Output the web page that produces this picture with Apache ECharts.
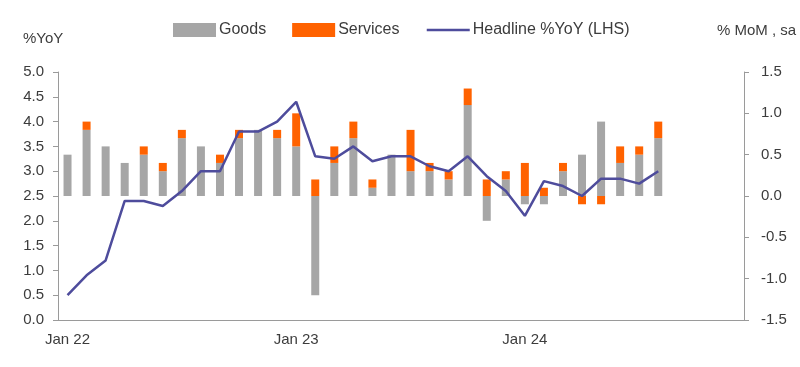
<!DOCTYPE html>
<html>
<head>
<meta charset="utf-8">
<script src="https://cdn.jsdelivr.net/npm/echarts@6/dist/echarts.min.js"></script>
<style>
html,body{margin:0;padding:0;background:#fff;}
#chart{width:800px;height:367px;}
</style>
</head>
<body>
<div id="chart"></div>
<script>
var months = ['Jan 22','Feb 22','Mar 22','Apr 22','May 22','Jun 22','Jul 22','Aug 22','Sep 22','Oct 22','Nov 22','Dec 22',
              'Jan 23','Feb 23','Mar 23','Apr 23','May 23','Jun 23','Jul 23','Aug 23','Sep 23','Oct 23','Nov 23','Dec 23',
              'Jan 24','Feb 24','Mar 24','Apr 24','May 24','Jun 24','Jul 24','Aug 24','Sep 24','Oct 24','Nov 24','Dec 24'];
var goods    = [0.5,0.8,0.6,0.4,0.5,0.3,0.7,0.6,0.4,0.7,0.8,0.7,
                0.6,-1.2,0.4,0.7,0.1,0.5,0.3,0.3,0.2,1.1,-0.3,0.2,
                -0.1,-0.1,0.3,0.5,0.9,0.4,0.5,0.7];
var services = [0,0.1,0,0,0.1,0.1,0.1,0,0.1,0.1,0,0.1,
                0.4,0.2,0.2,0.2,0.1,0,0.5,0.1,0.1,0.2,0.2,0.1,
                0.4,0.1,0.1,-0.1,-0.1,0.2,0.1,0.2];
var headline = [0.5,0.9,1.2,2.4,2.4,2.3,2.6,3.0,3.0,3.8,3.8,4.0,
                4.4,3.3,3.25,3.5,3.2,3.3,3.3,3.1,3.0,3.3,2.9,2.6,
                2.1,2.8,2.7,2.5,2.85,2.85,2.75,3.0];
var leftTicks = {min:0, max:5, interval:0.5};
var rightTicks = {min:-1.5, max:1.5, interval:0.5};

var FONT = "'Liberation Sans', Arial, sans-serif";
var TXT = '#3c3c3c';
var AX = '#9a9a9a';
var LINE = '#4e4c9c';

var chart = echarts.init(document.getElementById('chart'), null, {renderer:'canvas'});
chart.setOption({
  animation:false,
  textStyle:{fontFamily:FONT},
  title:[
    {text:'%YoY', left:18, top:26, textStyle:{fontFamily:FONT, fontSize:15, fontWeight:'normal', color:TXT}},
    {text:'% MoM , sa', left:712, top:18, textStyle:{fontFamily:FONT, fontSize:15, fontWeight:'normal', color:TXT}}
  ],
  legend:{
    left:168, top:17, itemWidth:43, itemHeight:14, itemGap:26,
    textStyle:{fontFamily:FONT, fontSize:16, color:TXT, padding:[0,0,0,-2]},
    data:[{name:'Goods', icon:'rect'},{name:'Services', icon:'rect'},
          {name:'Headline %YoY (LHS)', itemStyle:{color:'rgba(0,0,0,0)', borderWidth:0, opacity:0}, lineStyle:{color:LINE, width:2.5}}]
  },
  grid:{left:58, right:56, top:72, bottom:47},
  xAxis:{
    type:'category', data:months, boundaryGap:true,
    axisLine:{lineStyle:{color:AX, width:1}},
    axisTick:{interval:11, length:5, lineStyle:{color:AX}},
    axisLabel:{interval:11, margin:12, fontSize:15, color:TXT, fontFamily:FONT},
    splitLine:{show:false}
  },
  yAxis:[
    {type:'value', min:leftTicks.min, max:leftTicks.max, interval:leftTicks.interval, position:'left',
     axisLine:{show:true, lineStyle:{color:AX}}, axisTick:{show:true, length:5, lineStyle:{color:AX}},
     axisLabel:{margin:14, fontSize:15, color:TXT, fontFamily:FONT, formatter:function(v){return v.toFixed(1);}},
     splitLine:{show:false}},
    {type:'value', min:rightTicks.min, max:rightTicks.max, interval:rightTicks.interval, position:'right',
     axisLine:{show:true, lineStyle:{color:AX}}, axisTick:{show:true, length:5, lineStyle:{color:AX}},
     axisLabel:{margin:17, fontSize:15, color:TXT, fontFamily:FONT, formatter:function(v){return v.toFixed(1);}},
     splitLine:{show:false}}
  ],
  series:[
    {name:'Goods', type:'bar', stack:'mom', yAxisIndex:1, barWidth:8, data:goods,
     itemStyle:{color:'#a6a6a6'}},
    {name:'Services', type:'bar', stack:'mom', yAxisIndex:1, barWidth:8, data:services,
     itemStyle:{color:'#ff6200'}},
    {name:'Headline %YoY (LHS)', type:'line', yAxisIndex:0, data:headline, symbol:'none', showSymbol:false,
     lineStyle:{color:LINE, width:2.5}, itemStyle:{color:LINE}, z:5}
  ]
});
</script>
</body>
</html>
